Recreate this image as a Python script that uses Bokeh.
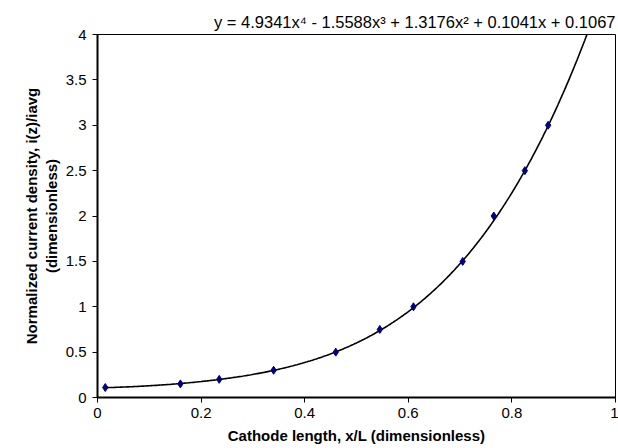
import numpy as np
from bokeh.plotting import figure
from bokeh.models import FixedTicker, Range1d, Title, LinearAxis
from bokeh.embed import file_html
from bokeh.resources import INLINE

# data points
x_pos = [0.015, 0.16, 0.235, 0.34, 0.46, 0.545, 0.61, 0.705, 0.765, 0.825, 0.87]
i_norm = [0.11, 0.15, 0.2, 0.3, 0.5, 0.75, 1.0, 1.5, 2.0, 2.5, 3.0]

# trendline coefficients printed on the chart (highest power first)
trend_coefs = [4.9341, -1.5588, 1.3176, 0.1041, 0.1067]
equation = "y = 4.9341x\u2074 - 1.5588x\u00b3 + 1.3176x\u00b2 + 0.1041x + 0.1067"

x_ticks = [0, 0.2, 0.4, 0.6, 0.8, 1.0]
x_tick_labels = ["0", "0.2", "0.4", "0.6", "0.8", "1"]
y_ticks = [0, 0.5, 1, 1.5, 2, 2.5, 3, 3.5, 4]
y_tick_labels = ["0", "0.5", "1", "1.5", "2", "2.5", "3", "3.5", "4"]

FONT = "Liberation Sans"

p = figure(width=618, height=448, output_backend="svg", toolbar_location=None,
           x_range=Range1d(0, 1), y_range=Range1d(0, 4),
           min_border_left=97, min_border_right=3, min_border_top=34, min_border_bottom=51)

p.xgrid.visible = False
p.ygrid.visible = False
p.outline_line_color = "black"
p.outline_line_width = 1
p.background_fill_color = "white"
p.border_fill_color = "white"

title = Title(text=equation, align="right", text_font=FONT, text_font_size="16.5px",
              text_font_style="normal", text_color="black", standoff=8)
p.add_layout(title, "above")

# trendline
xs = np.linspace(x_pos[0], 1.0, 400)
ys = np.polyval(trend_coefs, xs)
p.line(xs, ys, line_color="black", line_width=1.6)

p.scatter(x_pos, i_norm, marker="diamond", size=8, fill_color="#000080", line_color="#000080")

# outer y-axis carrying only the first line of the y title
outer = LinearAxis(ticker=FixedTicker(ticks=[]), axis_line_color=None,
                   major_tick_line_color=None, minor_tick_line_color=None,
                   axis_label="Normalized current density, i(z)/iavg",
                   axis_label_standoff=0)
p.add_layout(outer, "left")

for ax, ticks, labels in ((p.xaxis[0], x_ticks, x_tick_labels), (p.yaxis[0], y_ticks, y_tick_labels)):
    ax.ticker = FixedTicker(ticks=ticks)
    ax.major_label_overrides = {t: l for t, l in zip(ticks, labels)}
    ax.minor_tick_line_color = None
    ax.axis_line_width = 2
    ax.axis_line_color = "black"
    ax.major_tick_line_color = "black"
    ax.major_tick_line_width = 1
    ax.major_tick_out = 5
    ax.major_tick_in = 0
    ax.major_label_text_font = FONT
    ax.major_label_text_font_size = "15px"
    ax.major_label_text_color = "black"

for ax in (p.xaxis[0], p.yaxis[0], outer):
    ax.axis_label_text_font = FONT
    ax.axis_label_text_font_size = "15px"
    ax.axis_label_text_font_style = "bold"
    ax.axis_label_text_color = "black"

p.xaxis.axis_label = "Cathode length, x/L (dimensionless)"
p.yaxis[0].axis_label = "(dimensionless)"
p.xaxis.axis_label_standoff = 6
p.yaxis[0].axis_label_standoff = 3
p.xaxis.major_label_standoff = 5
p.yaxis[0].major_label_standoff = 6

open("out.html", "w").write(file_html(p, INLINE))
